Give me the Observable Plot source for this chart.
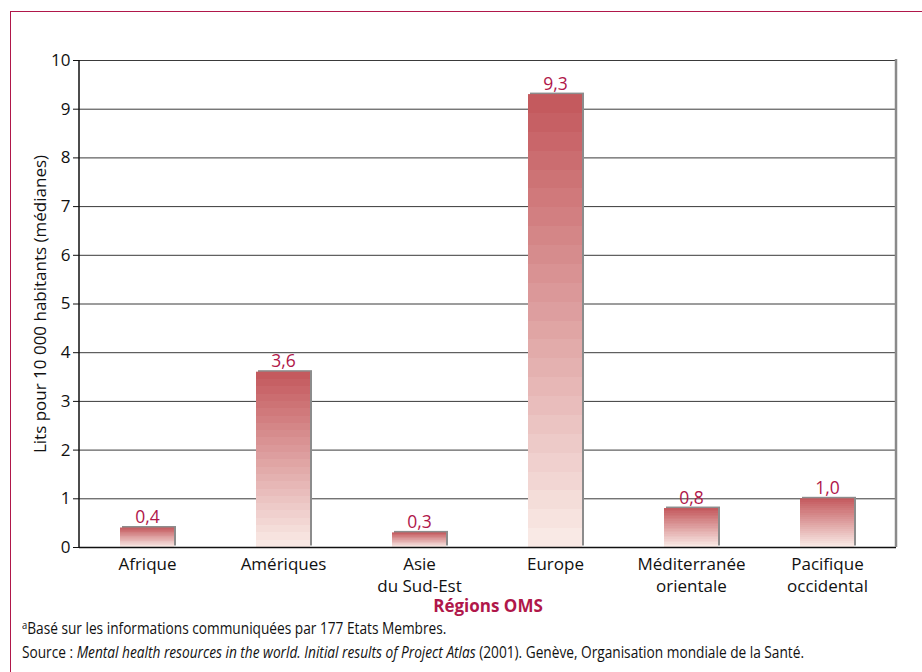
<!DOCTYPE html>
<html>
<head>
<meta charset="utf-8">
<script src="https://cdn.jsdelivr.net/npm/d3@7"></script>
<script src="https://cdn.jsdelivr.net/npm/@observablehq/plot@0.6"></script>
<style>
  html, body { margin: 0; padding: 0; background: #fff; }
  body { width: 922px; height: 672px; position: relative; overflow: hidden;
         font-family: "Open Sans", sans-serif; }
  #border { position: absolute; left: 10px; top: 11px; right: -10px; bottom: -10px;
            border-left: 1.5px solid #b0174a; border-top: 1.5px solid #b0174a; }
  #chart { position: absolute; left: 0; top: 0; }
  .note { position: absolute; left: 22px; font-size: 16px; font-stretch: 100%; color: #111; white-space: nowrap;
          transform: scaleX(0.855); transform-origin: 0 50%; }
  .note sup { font-size: 11px; vertical-align: 5px; }
</style>
</head>
<body>
<div id="border"></div>
<div id="chart"></div>
<div class="note" style="top: 617px;"><sup>a</sup>Basé sur les informations communiquées par 177 Etats Membres.</div>
<div class="note" style="top: 641px;">Source : <i>Mental health resources in the world. Initial results of Project Atlas</i> (2001). Genève, Organisation mondiale de la Santé.</div>
<script>
// Régions OMS and median psychiatric beds per 10 000 inhabitants
const regions = ["Afrique", "Amériques", "Asie du Sud-Est", "Europe", "Méditerranée orientale", "Pacifique occidental"];
const regionLabels = ["Afrique", "Amériques", "Asie\ndu Sud-Est", "Europe", "Méditerranée\norientale", "Pacifique\noccidental"];
const beds = [0.4, 3.6, 0.3, 9.3, 0.8, 1.0];
const yTicks = [0, 1, 2, 3, 4, 5, 6, 7, 8, 9, 10];

const data = regions.map((r, i) => ({region: r, value: beds[i]}));
const labelOf = new Map(regions.map((r, i) => [r, regionLabels[i]]));
const fr = d3.formatLocale({decimal: ",", thousands: " ", grouping: [3], currency: ["", "€"]});
const fmt = fr.format(".1f");

const crimson = "#b0174a";

// Banded vertical gradient for the bars (dark rose at the top, pale at the base)
function gradientDefs() {
  const defs = d3.create("svg:defs");
  const g = defs.append("linearGradient")
    .attr("id", "barGrad").attr("x1", 0).attr("y1", 0).attr("x2", 0).attr("y2", 1);
  const bands = 24;
  const col = d3.interpolateRgb("#c45a5e", "#f9e9e5");
  for (let i = 0; i < bands; i++) {
    const c = col(i / (bands - 1));
    g.append("stop").attr("offset", i / bands).attr("stop-color", c);
    g.append("stop").attr("offset", (i + 1) / bands).attr("stop-color", c);
  }
  return defs.node();
}

// Plot-area edges: black left axis line, grey right border
function edges(index, scales, values, dims) {
  const {marginLeft, marginRight, marginTop, marginBottom, width, height} = dims;
  const g = d3.create("svg:g");
  g.append("line")
    .attr("x1", width - marginRight).attr("x2", width - marginRight)
    .attr("y1", marginTop - 1).attr("y2", height - marginBottom)
    .attr("stroke", "#8a8a8a").attr("stroke-width", 2.5);
  g.append("line")
    .attr("x1", marginLeft).attr("x2", marginLeft)
    .attr("y1", marginTop).attr("y2", height - marginBottom + 1)
    .attr("stroke", "#111").attr("stroke-width", 1.5);
  return g.node();
}

const chart = Plot.plot({
  width: 922,
  height: 630,
  marginTop: 60,
  marginBottom: 83,
  marginLeft: 79,
  marginRight: 26,
  style: "font-family: 'Open Sans', sans-serif; font-stretch: 90%; font-size: 17px; color: #111; background: transparent;",
  x: {domain: regions, paddingInner: 0.6, paddingOuter: 0.3, label: null},
  y: {domain: [0, 10], label: null},
  marks: [
    gradientDefs,
    Plot.gridY(yTicks, {stroke: "#3a3a3a", strokeOpacity: 1, strokeWidth: 1}),
    Plot.barY(data, {x: "region", y: "value", fill: "#8c8c8c", dx: 2, dy: -1.5}),
    Plot.barY(data, {x: "region", y: "value", fill: "url(#barGrad)"}),
    Plot.ruleY([0], {stroke: "#111", strokeWidth: 1.5}),
    edges,
    Plot.axisY({ticks: yTicks, tickSize: 6, tickPadding: 3, fontSize: 17, label: null, stroke: "#111"}),
    Plot.axisX({tickSize: 0, tickPadding: 7, fontSize: 17, label: null,
                tickFormat: (d) => labelOf.get(d), lineHeight: 1.3}),
    Plot.text(data, {x: "region", y: "value", text: (d) => fmt(d.value),
                     lineAnchor: "bottom", dy: -5, fill: crimson, fontSize: 17.5}),
    Plot.text(["Régions OMS"], {frameAnchor: "bottom", dy: 59, lineAnchor: "middle",
                                fill: crimson, fontWeight: "bold", fontSize: 17}),
    Plot.text(["Lits pour 10 000 habitants (médianes)"], {frameAnchor: "left", dx: -39, rotate: -90,
                                textAnchor: "middle", lineAnchor: "middle", fill: "#111", fontSize: 17})
  ]
});

document.getElementById("chart").appendChild(chart);
</script>
</body>
</html>
